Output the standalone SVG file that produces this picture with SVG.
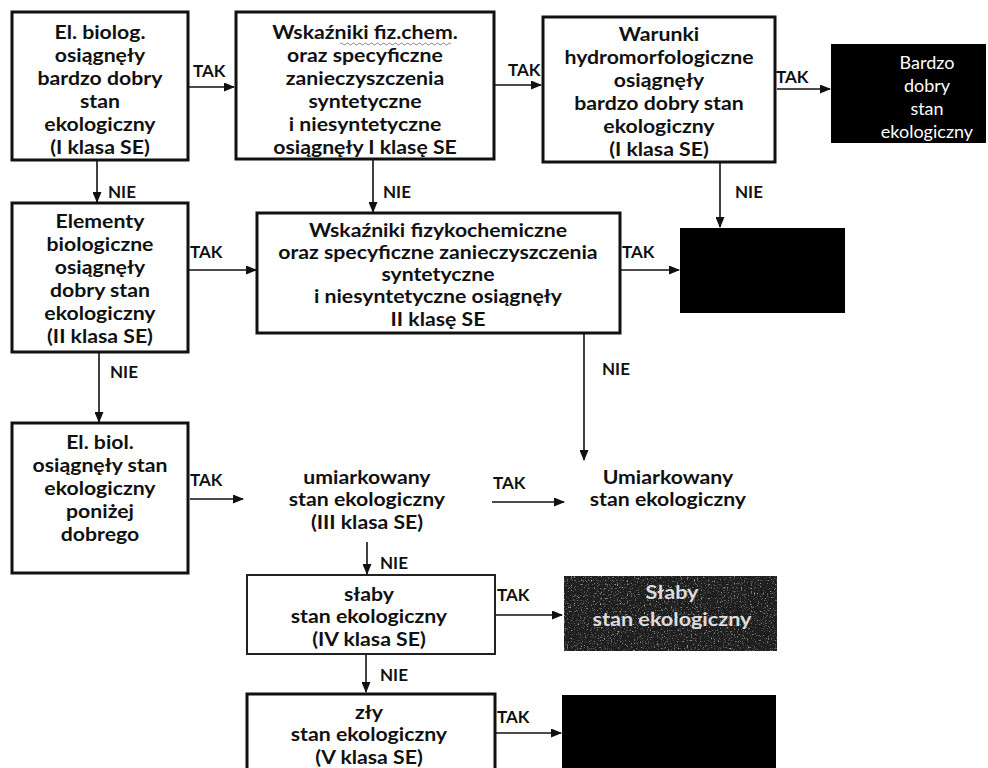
<svg xmlns="http://www.w3.org/2000/svg" width="988" height="768" viewBox="0 0 988 768">
<defs>
<marker id="ah" markerWidth="11" markerHeight="9" refX="10" refY="4.5" orient="auto" markerUnits="userSpaceOnUse">
<path d="M0,0 L11,4.5 L0,9 z" fill="#111"/>
</marker>
<filter id="noise" x="0" y="0" width="100%" height="100%">
<feTurbulence type="fractalNoise" baseFrequency="0.7" numOctaves="2" seed="4"/>
<feColorMatrix type="matrix" values="0 0 0 0 0.6  0 0 0 0 0.6  0 0 0 0 0.6  3 0 0 0 -1.7"/>
</filter>
<style>
.t{font-family:Lato,"Liberation Sans",sans-serif;font-weight:bold;font-size:18px;fill:#111;text-anchor:middle;transform-box:fill-box;transform-origin:center;transform:scaleX(1.18)}
.w{font-family:Lato,"Liberation Sans",sans-serif;font-weight:normal;font-size:18px;fill:#fff;text-anchor:middle}
.g{font-family:Lato,"Liberation Sans",sans-serif;font-weight:bold;font-size:18px;fill:#ddd;text-anchor:middle;transform-box:fill-box;transform-origin:center;transform:scaleX(1.2)}
.l{font-family:Lato,"Liberation Sans",sans-serif;font-weight:bold;font-size:17px;fill:#111}
.box{fill:#fff;stroke:#111;stroke-width:3}
.thin{fill:#fff;stroke:#222;stroke-width:2}
.blk{fill:#000}
.c{stroke:#111;stroke-width:1.6;fill:none;marker-end:url(#ah)}
</style>
</defs>
<rect width="988" height="768" fill="#fff"/>

<g id="n1">
<rect class="box" x="12" y="12" width="176" height="148"/>
<text class="t" x="100" y="39">El. biolog.</text>
<text class="t" x="100" y="62">osiągnęły</text>
<text class="t" x="100" y="85">bardzo dobry</text>
<text class="t" x="100" y="108">stan</text>
<text class="t" x="100" y="131">ekologiczny</text>
<text class="t" x="100" y="154">(I klasa SE)</text>
</g>

<g id="n2">
<rect class="box" x="236" y="12" width="258" height="147"/>
<text class="t" x="365" y="39">Wskaźniki fiz.chem.</text>
<path d="M340,44 q1.5,-2 3,0 t3,0 t3,0 t3,0 t3,0 t3,0 t3,0 t3,0 t3,0 t3,0 t3,0 t3,0 t3,0 t3,0 t3,0 t3,0 t3,0 t3,0 t3,0 t3,0 t3,0 t3,0 t3,0 t3,0 t3,0 t3,0 t3,0 t3,0 t3,0 t3,0 t3,0 t3,0 t3,0 t3,0 t3,0 t3,0 t3,0" fill="none" stroke="#888" stroke-width="1"/>
<text class="t" x="365" y="62">oraz specyficzne</text>
<text class="t" x="365" y="85">zanieczyszczenia</text>
<text class="t" x="365" y="108">syntetyczne</text>
<text class="t" x="365" y="131">i niesyntetyczne</text>
<text class="t" x="365" y="154">osiągnęły I klasę SE</text>
</g>

<g id="n3">
<rect class="box" x="543" y="17" width="232" height="145"/>
<text class="t" x="659" y="41">Warunki</text>
<text class="t" x="659" y="64">hydromorfologiczne</text>
<text class="t" x="659" y="87">osiągnęły</text>
<text class="t" x="659" y="110">bardzo dobry stan</text>
<text class="t" x="659" y="133">ekologiczny</text>
<text class="t" x="659" y="156">(I klasa SE)</text>
</g>

<g id="n4">
<rect class="blk" x="831" y="44" width="155" height="99"/>
<text class="w" x="927" y="69">Bardzo</text>
<text class="w" x="927" y="92">dobry</text>
<text class="w" x="927" y="115">stan</text>
<text class="w" x="927" y="138">ekologiczny</text>
</g>

<g id="n5">
<rect class="box" x="12" y="203" width="176" height="149"/>
<text class="t" x="100" y="228">Elementy</text>
<text class="t" x="100" y="251">biologiczne</text>
<text class="t" x="100" y="274">osiągnęły</text>
<text class="t" x="100" y="297">dobry stan</text>
<text class="t" x="100" y="320">ekologiczny</text>
<text class="t" x="100" y="343">(II klasa SE)</text>
</g>

<g id="n6">
<rect class="box" x="257" y="213" width="363" height="120"/>
<text class="t" x="438" y="237">Wskaźniki fizykochemiczne</text>
<text class="t" x="438" y="259">oraz specyficzne zanieczyszczenia</text>
<text class="t" x="438" y="281">syntetyczne</text>
<text class="t" x="438" y="303">i niesyntetyczne osiągnęły</text>
<text class="t" x="438" y="326">II klasę SE</text>
</g>

<g id="n7">
<rect class="blk" x="680" y="228" width="165" height="85"/>
</g>

<g id="n8">
<rect class="box" x="12" y="423" width="176" height="150"/>
<text class="t" x="100" y="449">El. biol.</text>
<text class="t" x="100" y="472">osiągnęły stan</text>
<text class="t" x="100" y="495">ekologiczny</text>
<text class="t" x="100" y="518">poniżej</text>
<text class="t" x="100" y="541">dobrego</text>
</g>

<g id="n9">
<text class="t" x="367" y="484">umiarkowany</text>
<text class="t" x="367" y="506">stan ekologiczny</text>
<text class="t" x="367" y="529">(III klasa SE)</text>
</g>

<g id="n10">
<text class="t" x="668" y="484">Umiarkowany</text>
<text class="t" x="668" y="506">stan ekologiczny</text>
</g>

<g id="n11">
<rect class="thin" x="247" y="575" width="248" height="79"/>
<text class="t" x="369" y="601">słaby</text>
<text class="t" x="369" y="623">stan ekologiczny</text>
<text class="t" x="369" y="646">(IV klasa SE)</text>
</g>

<g id="n12">
<rect x="564" y="576" width="213" height="75" fill="#1e1e1e"/>
<rect x="564" y="576" width="213" height="75" filter="url(#noise)"/>
<text class="g" x="672" y="599">Słaby</text>
<text class="g" x="672" y="626">stan ekologiczny</text>
</g>

<g id="n13">
<rect class="box" x="247" y="694" width="248" height="80"/>
<text class="t" x="369" y="719">zły</text>
<text class="t" x="369" y="741">stan ekologiczny</text>
<text class="t" x="369" y="764">(V klasa SE)</text>
</g>

<g id="n14">
<rect class="blk" x="562" y="695" width="214" height="73"/>
</g>

<g id="connectors">
<line class="c" x1="189" y1="87" x2="234" y2="87"/>
<line class="c" x1="495" y1="85" x2="541" y2="85"/>
<line class="c" x1="777" y1="89" x2="830" y2="89"/>
<line class="c" x1="97" y1="161" x2="97" y2="202"/>
<line class="c" x1="373" y1="160" x2="373" y2="212"/>
<line class="c" x1="720" y1="163" x2="720" y2="227"/>
<line class="c" x1="189" y1="270" x2="256" y2="270"/>
<line class="c" x1="621" y1="270" x2="679" y2="270"/>
<line class="c" x1="584" y1="334" x2="584" y2="460"/>
<line class="c" x1="99" y1="353" x2="99" y2="422"/>
<line class="c" x1="190" y1="499" x2="243" y2="499"/>
<line class="c" x1="492" y1="502" x2="564" y2="502"/>
<line class="c" x1="367" y1="542" x2="367" y2="574"/>
<line class="c" x1="496" y1="615" x2="562" y2="615"/>
<line class="c" x1="366" y1="655" x2="366" y2="692"/>
<line class="c" x1="496" y1="733" x2="561" y2="733"/>
<text class="l" x="193" y="77">TAK</text>
<text class="l" x="508" y="76">TAK</text>
<text class="l" x="776" y="83">TAK</text>
<text class="l" x="108" y="198">NIE</text>
<text class="l" x="383" y="198">NIE</text>
<text class="l" x="735" y="198">NIE</text>
<text class="l" x="190" y="258">TAK</text>
<text class="l" x="622" y="258">TAK</text>
<text class="l" x="602" y="375">NIE</text>
<text class="l" x="110" y="378">NIE</text>
<text class="l" x="190" y="486">TAK</text>
<text class="l" x="493" y="489">TAK</text>
<text class="l" x="380" y="569">NIE</text>
<text class="l" x="497" y="601">TAK</text>
<text class="l" x="380" y="681">NIE</text>
<text class="l" x="497" y="723">TAK</text>
</g>
</svg>
